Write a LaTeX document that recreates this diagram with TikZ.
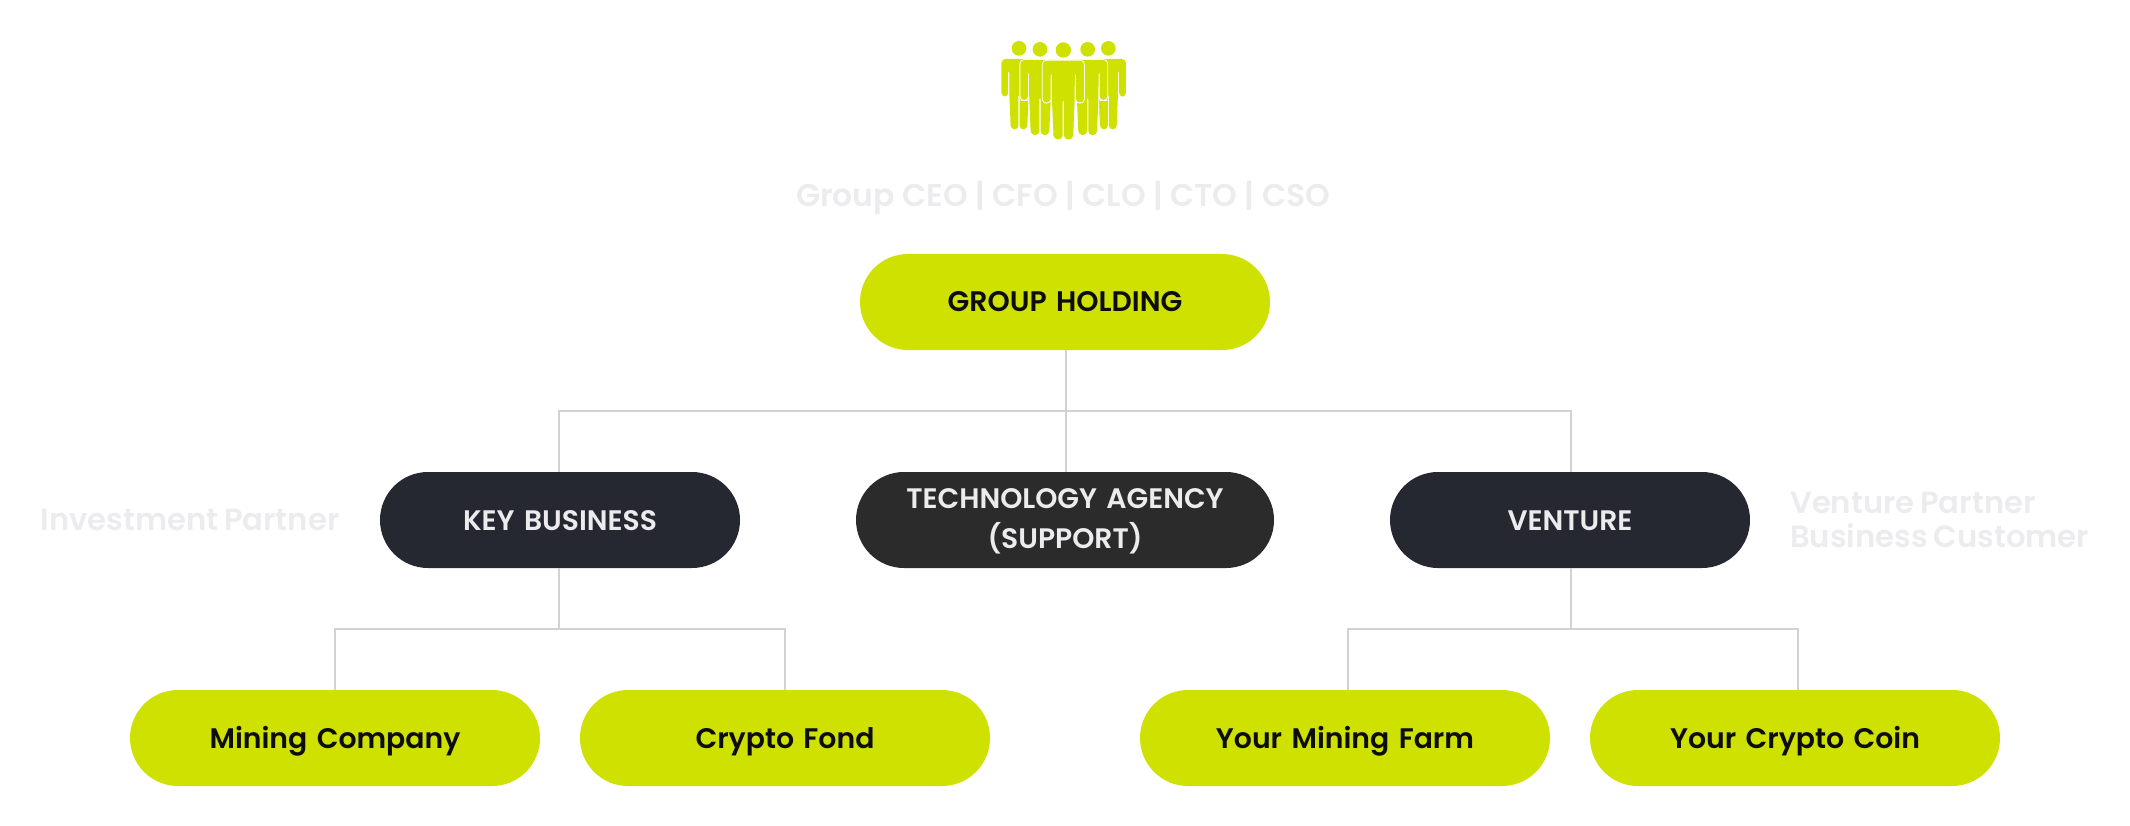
\documentclass[tikz,border=0pt]{standalone}
\usepackage{fontspec}
\setmainfont{Poppins}[UprightFont=* SemiBold,WordSpace=0.75]
\newfontfamily\ceofont{Poppins}[UprightFont=* SemiBold]
\definecolor{lime}{HTML}{CEE100}
\definecolor{navy}{HTML}{252830}
\definecolor{char}{HTML}{2B2B2B}
\definecolor{pale}{HTML}{ECECEE}
\definecolor{linec}{HTML}{D2D2D2}
\tikzset{
 pill/.style={rounded corners=48pt,minimum height=96pt,inner sep=0pt,align=center,text width=340pt},
 limepill/.style={pill,fill=lime,text=black!95,text height=20pt,text depth=0pt,font=\fontsize{28.3}{38}\selectfont},
 darkpill/.style={pill,text=pale,font=\fontsize{28.2}{39.5}\selectfont},
 note/.style={text=pale,inner sep=0pt,font=\fontsize{30.7}{34}\selectfont},
 conn/.style={draw=linec,line width=2pt},
}
\newcommand{\personpath}{(-62,0)--(62,0)--(62,126)--(38,126)--(38,32)--(34.5,32)--(34,120)--(29,236)--(2,236)--(2,112)--(-2,112)--(-2,236)--(-29,236)--(-34,120)--(-34.5,32)--(-38,32)--(-38,126)--(-62,126)--cycle}
\newcommand{\personfig}[5]{%
 \begin{scope}[shift={(#1,#2)},x=#3pt,y=-#4pt,rounded corners=3.9pt]
  \path[fill=white,draw=white,line width=1.8pt] \personpath;
  \fill[lime] \personpath;
 \end{scope}
 \fill[lime] (#1,#2-32) circle[radius=#5];}
\begin{document}
\begin{tikzpicture}[x=1pt,y=-1pt]
\useasboundingbox (0,0) rectangle (2130,826);
% icon
\begin{scope}[shift={(960,20)},x=0.3333pt,y=-0.3333pt]
 \personfig{177}{117}{0.2833}{0.2983}{22}
 \personfig{445}{117}{0.2833}{0.2983}{22}
 \personfig{240}{120}{0.3167}{0.3178}{22}
 \personfig{383}{120}{0.3167}{0.3178}{22}
 \personfig{310}{122}{0.3333}{0.3333}{23}
\end{scope}
\node[note,font=\ceofont\fontsize{31.4}{34}\selectfont] (ceo) at (1063,198) {Group CEO | CFO | CLO | CTO | CSO};
\node[limepill,minimum width=410pt] (gh) at (1065,302) {GROUP HOLDING};
\node[pill,fill=navy,minimum width=360pt,darkpill,text height=20pt,text depth=0pt] (kb) at (560,520) {KEY BUSINESS};
\node[pill,fill=char,minimum width=418pt,darkpill] (tech) at (1065,520) {\rule{0pt}{23pt}TECHNOLOGY AGENCY\\(SUPPORT)};
\node[pill,fill=navy,minimum width=360pt,darkpill,text height=20pt,text depth=0pt] (ven) at (1570,520) {VENTURE};
\node[limepill,minimum width=410pt] (mc) at (335,738) {Mining Company};
\node[limepill,minimum width=410pt] (cf) at (785,738) {Crypto Fond};
\node[limepill,minimum width=410pt] (ym) at (1345,738) {Your Mining Farm};
\node[limepill,minimum width=410pt] (yc) at (1795,738) {Your Crypto Coin};
\node[note] (inv) at (190,520) {Investment Partner};
\node[note,align=left,anchor=west] (vp) at (1790,519.5) {Venture Partner\\Business Customer};
\coordinate (hubtop) at (1065.7,411);
\coordinate (hubk) at (559,629);
\coordinate (hubv) at (1571,629);
\draw[conn] (gh.south -| hubtop) -- (tech.north -| hubtop);
\draw[conn] ([xshift=-1pt]kb.north) |- (hubtop) -| ([xshift=1pt]ven.north);
\draw[conn] ([xshift=-1pt]kb.south) -- (hubk);
\draw[conn] (mc.north) |- (hubk) -| (cf.north);
\draw[conn] ([xshift=1pt]ven.south) -- (hubv);
\draw[conn] ([xshift=2.5pt]ym.north) |- (hubv) -| ([xshift=2.5pt]yc.north);
\end{tikzpicture}
\end{document}
